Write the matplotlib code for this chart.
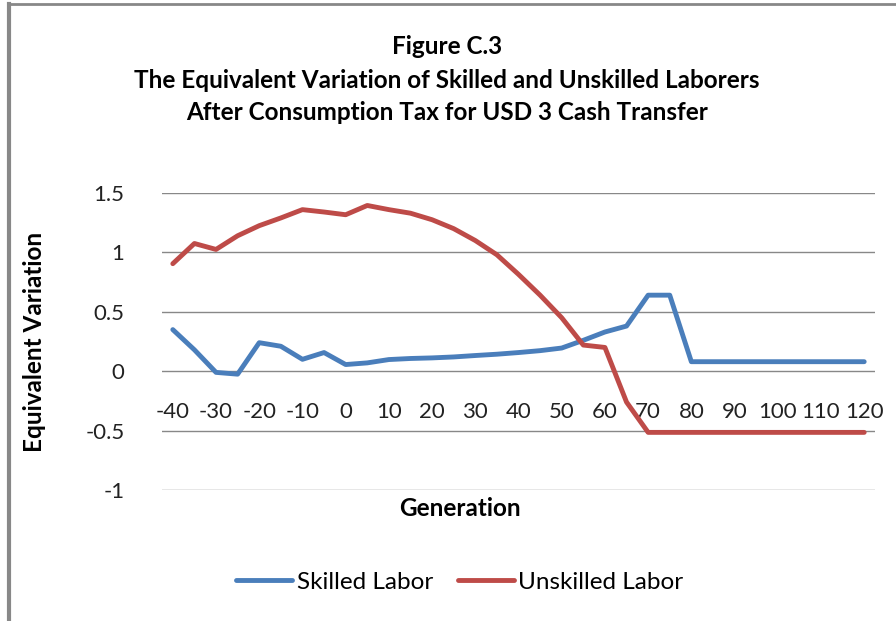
import numpy as np
import matplotlib
matplotlib.use("Agg")
import matplotlib.pyplot as plt
from matplotlib.lines import Line2D

plt.rcParams['font.family'] = ['Lato', 'DejaVu Sans']

# Generations on the category axis
generations = list(range(-40, 125, 5))

# Equivalent variation
skilled = [0.35, 0.18, -0.01, -0.025, 0.24, 0.21, 0.10, 0.157, 0.056, 0.07,
           0.098, 0.107, 0.112, 0.12, 0.132, 0.143, 0.157, 0.173, 0.195, 0.26,
           0.33, 0.38, 0.64, 0.64, 0.08, 0.08, 0.08, 0.08, 0.08, 0.08,
           0.08, 0.08, 0.08]
unskilled = [0.905, 1.075, 1.025, 1.14, 1.225, 1.29, 1.36, 1.34, 1.317, 1.395,
             1.36, 1.33, 1.275, 1.2, 1.10, 0.98, 0.815, 0.64, 0.45, 0.22,
             0.20, -0.26, -0.515, -0.515, -0.515, -0.515, -0.515, -0.515,
             -0.515, -0.515, -0.515, -0.515, -0.515]

yticks = [-1, -0.5, 0, 0.5, 1, 1.5]
ytick_labels = ['-1', '-0.5', '0', '0.5', '1', '1.5']

W, H = 896, 621
fig = plt.figure(figsize=(W / 100, H / 100), dpi=100)
ax = fig.add_axes([162 / W, 1 - 490 / H, (875 - 162) / W, (490 - 193) / H])

x = np.arange(len(generations))
ax.plot(x, skilled, color='#4a7ebb', lw=3.5, solid_capstyle='round',
        solid_joinstyle='round', label='Skilled Labor')
ax.plot(x, unskilled, color='#be4b48', lw=3.5, solid_capstyle='round',
        solid_joinstyle='round', label='Unskilled Labor')

ax.set_xlim(-0.5, len(generations) - 0.5)
ax.set_ylim(-1, 1.5)
ax.set_yticks(yticks)
ax.set_yticklabels(ytick_labels, fontsize=16, color='#222222')
ax.tick_params(axis='y', length=0, pad=27)
ax.yaxis.grid(True, color='#888888', lw=1)
ax.set_axisbelow(True)

# category axis crosses at zero, labels every other generation
ax.spines['bottom'].set_position(('data', 0))
for s in ['top', 'right', 'left', 'bottom']:
    ax.spines[s].set_visible(False)
ax.set_xticks(x[::2])
ax.set_xticklabels([str(g) for g in generations[::2]], fontsize=16, color='#222222')
ax.tick_params(axis='x', length=0, pad=22)

fig.text(35 / W, 1 - 342 / H, 'Equivalent Variation', rotation=90, fontsize=17.5,
         fontweight='bold', ha='center', va='center')
fig.text(460 / W, 1 - 509 / H, 'Generation', fontsize=17.5, fontweight='bold',
         ha='center', va='center')

title = ['Figure C.3',
         'The Equivalent Variation of Skilled and Unskilled Laborers',
         'After Consumption Tax for USD 3 Cash Transfer']
for i, t in enumerate(title):
    fig.text(447 / W, 1 - (47 + 33 * i) / H, t, fontsize=17.5, fontweight='bold',
             ha='center', va='center')

fig.legend(loc='center', bbox_to_anchor=(460 / W, 1 - 582 / H), ncol=2,
           frameon=False, fontsize=17.5, handlelength=2.3, handletextpad=0.2,
           columnspacing=1.0)

# chart border (left and top only visible)
fig.add_artist(Line2D([9 / W, 9 / W], [0, 1 - 4 / H], color='#888888', lw=3,
                      transform=fig.transFigure))
fig.add_artist(Line2D([9 / W, 1], [1 - 4 / H, 1 - 4 / H], color='#888888', lw=2,
                      transform=fig.transFigure))

fig.savefig('out.png', dpi=100)
